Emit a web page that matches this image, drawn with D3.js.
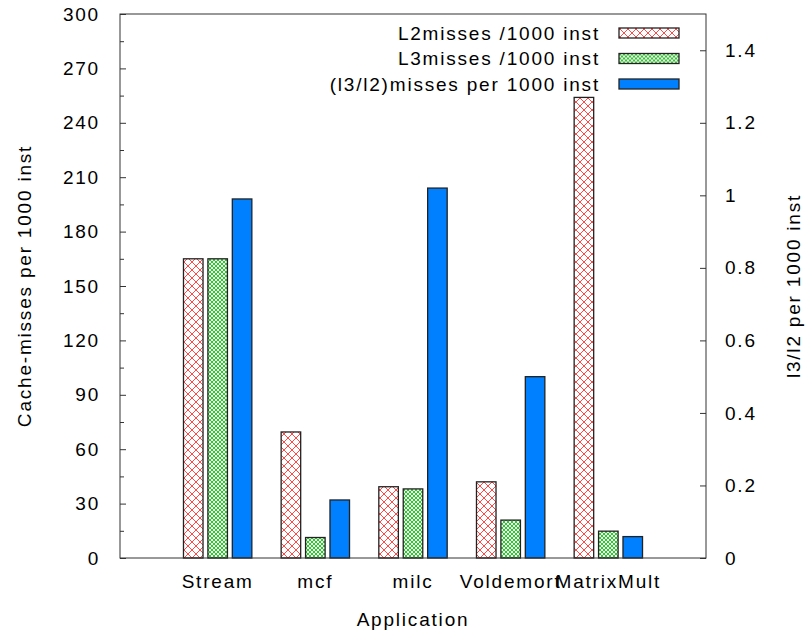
<!DOCTYPE html>
<html>
<head>
<meta charset="utf-8">
<script src="https://cdn.jsdelivr.net/npm/d3@7"></script>
<style>
  body { margin: 0; background: #fff; }
  text { font-family: "Liberation Sans", Arial, sans-serif; font-size: 19px; letter-spacing: 1.8px; fill: #000; }
</style>
</head>
<body>
<svg id="chart"></svg>
<script>
// values
const apps = ["Stream", "mcf", "milc", "Voldemort", "MatrixMult"];
const l2Misses = [165, 69.5, 39.3, 42, 254];
const l3Misses = [165, 11.3, 38.1, 20.9, 14.8];
const ratio = [0.99, 0.16, 1.02, 0.5, 0.059];
const seriesNames = ["L2misses /1000 inst", "L3misses /1000 inst", "(l3/l2)misses per 1000 inst"];
const leftTicks = [0, 30, 60, 90, 120, 150, 180, 210, 240, 270, 300];
const rightTicks = [0, 0.2, 0.4, 0.6, 0.8, 1, 1.2, 1.4];

const W = 809, H = 634;
const margin = { top: 14, right: 103, bottom: 76, left: 120 };
const plotW = W - margin.left - margin.right;
const plotH = H - margin.top - margin.bottom;

const svg = d3.select("#chart").attr("width", W).attr("height", H);

// fill patterns for the two hatched series
const defs = svg.append("defs");
const red = defs.append("pattern").attr("id", "redHatch")
    .attr("patternUnits", "userSpaceOnUse").attr("width", 8).attr("height", 8);
red.append("rect").attr("width", 8).attr("height", 8).attr("fill", "#fff");
red.append("path").attr("d", "M0,0L8,8M8,0L0,8")
    .attr("stroke", "#ff4a4a").attr("stroke-width", 1);

const green = defs.append("pattern").attr("id", "greenHatch")
    .attr("patternUnits", "userSpaceOnUse").attr("width", 4).attr("height", 4);
green.append("rect").attr("width", 4).attr("height", 4).attr("fill", "#e8fae8");
green.append("path").attr("d", "M0,0L4,4M4,0L0,4")
    .attr("stroke", "#39c239").attr("stroke-width", 1);

const fills = ["url(#redHatch)", "url(#greenHatch)", "#0080ff"];

const chart = svg.append("g").attr("transform", `translate(${margin.left},${margin.top})`);

// x is the category index, gnuplot-style range [-1, 5]
const xScale = d3.scaleLinear().domain([-1, apps.length]).range([0, plotW]);
const yLeft = d3.scaleLinear().domain([0, 300]).range([plotH, 0]);
const yRight = d3.scaleLinear().domain([0, 1.5]).range([plotH, 0]);

const barW = 0.2, barStep = 0.25;

// left axis, ticks pointing inside
const leftAxis = chart.append("g")
    .call(d3.axisLeft(yLeft).tickValues(leftTicks).tickSize(-6).tickPadding(20));
chart.append("g")
    .call(d3.axisLeft(yLeft).tickValues(d3.range(15, 300, 30)).tickSize(-4).tickFormat(""));

const rightAxis = chart.append("g")
    .attr("transform", `translate(${plotW},0)`)
    .call(d3.axisRight(yRight).tickValues(rightTicks).tickSize(-6).tickPadding(19)
      .tickFormat(d => d3.format("~g")(d)));

chart.selectAll(".domain").remove();
chart.selectAll(".tick line").attr("stroke", "#333");
chart.selectAll(".tick text")
    .attr("font-size", null).attr("font-family", null);
chart.selectAll("g").attr("font-size", null).attr("font-family", null);

// bars
const series = [
  { vals: l2Misses, scale: yLeft },
  { vals: l3Misses, scale: yLeft },
  { vals: ratio, scale: yRight }
];
series.forEach((s, j) => {
  chart.append("g").selectAll("rect")
    .data(s.vals)
    .join("rect")
    .attr("x", (d, i) => xScale(i + (j - 1) * barStep - barW / 2))
    .attr("width", xScale(barW) - xScale(0))
    .attr("y", d => s.scale(d))
    .attr("height", d => plotH - s.scale(d))
    .attr("fill", fills[j])
    .attr("stroke", "#222")
    .attr("stroke-width", 1.3);
});

// border
chart.append("rect")
    .attr("width", plotW).attr("height", plotH)
    .attr("fill", "none").attr("stroke", "#333").attr("stroke-width", 1);

// category labels
chart.append("g").selectAll("text")
    .data(apps)
    .join("text")
    .attr("x", (d, i) => xScale(i))
    .attr("y", plotH + 30)
    .attr("text-anchor", "middle")
    .text(d => d);

// axis titles
svg.append("text")
    .attr("x", margin.left + plotW / 2).attr("y", 626)
    .attr("text-anchor", "middle").text("Application");
svg.append("text")
    .attr("transform", `translate(31,${margin.top + plotH / 2}) rotate(-90)`)
    .attr("text-anchor", "middle").text("Cache-misses per 1000 inst");
svg.append("text")
    .attr("transform", `translate(800,${margin.top + plotH / 2}) rotate(-90)`)
    .attr("text-anchor", "middle").text("l3/l2 per 1000 inst");

// legend
const legend = svg.append("g").attr("transform", "translate(600,33)");
seriesNames.forEach((name, j) => {
  const row = legend.append("g").attr("transform", `translate(0,${j * 25.5})`);
  row.append("text").attr("x", 0).attr("y", 0)
    .attr("dy", "0.35em").attr("text-anchor", "end").text(name);
  row.append("rect").attr("x", 19).attr("y", -5).attr("width", 60).attr("height", 10)
    .attr("fill", fills[j]).attr("stroke", "#222").attr("stroke-width", 1.3);
});
</script>
</body>
</html>
